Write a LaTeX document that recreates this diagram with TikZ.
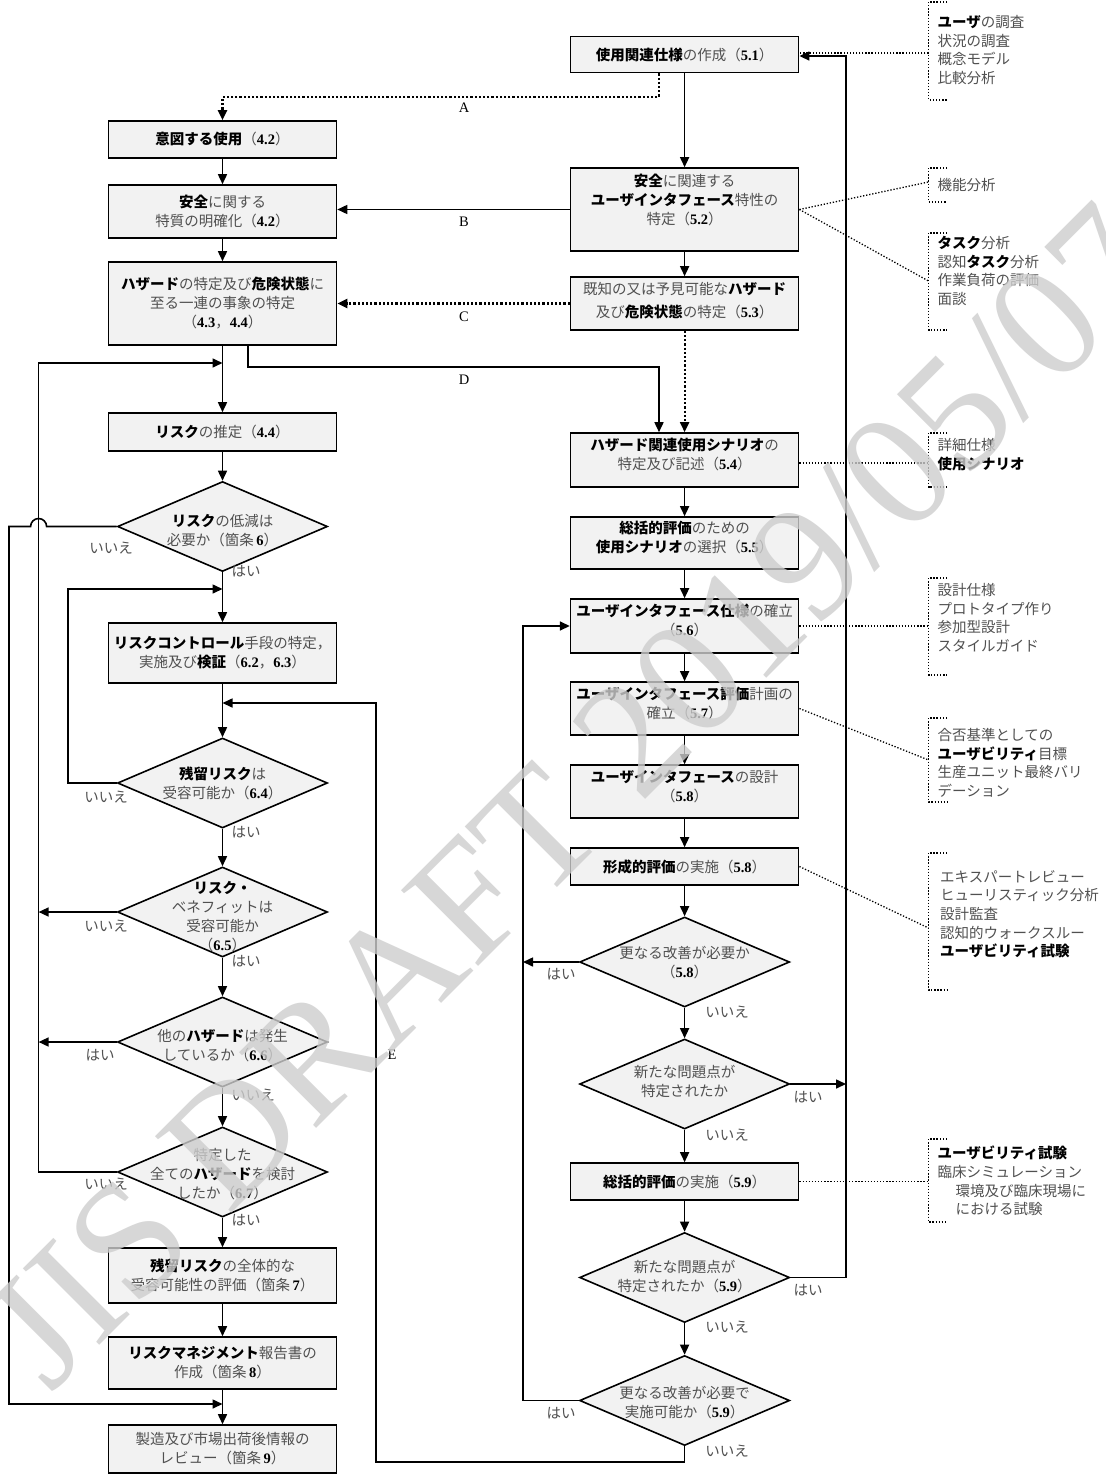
\documentclass[tikz,border=0pt]{standalone}
\usepackage{fontspec}
\setmainfont{Noto Sans CJK JP}[BoldFont={Noto Sans CJK JP Black}]
\newfontfamily\lat{Liberation Serif}
\usetikzlibrary{arrows.meta,shapes.geometric,calc}
\definecolor{boxfill}{RGB}{242,242,242}
\definecolor{txt}{RGB}{80,80,80}
\definecolor{wmc}{RGB}{205,205,205}
\newcommand\nm[1]{{\lat\bfseries\color{black}#1}}
\newcommand\bk[1]{{\bfseries\color{black}#1}}
\newcommand\dep[1]{\rule[-#1pt]{0pt}{1pt}}
\begin{document}
\begin{tikzpicture}[x=1pt,y=-1pt,
  font=\fontsize{14.5}{19}\selectfont,
  box/.style={draw=black, line width=1.6pt, fill=boxfill, minimum width=228pt, inner sep=3pt, align=center, text=txt},
  dia/.style={diamond, draw=black, line width=1.6pt, fill=boxfill, minimum width=210pt, minimum height=90pt, inner sep=0pt},
  dtext/.style={align=center, inner sep=0pt, text=txt},
  arr/.style={line width=1.6pt, -{Triangle[length=10pt,width=9pt]}},
  dotarr/.style={line width=2.2pt, dash pattern=on 2.2pt off 2pt, -{Triangle[length=10pt,width=9pt]}},
  ann/.style={line width=1.3pt, dash pattern=on 1.3pt off 1.8pt},
  lbl/.style={font=\lat\fontsize{14.5}{17}\selectfont, text=black, inner sep=0pt},
  yn/.style={text=txt, inner sep=0pt},
  note/.style={anchor=north west, align=left, inner sep=0pt, text=txt, font=\fontsize{14.5}{18.7}\selectfont},
]
\fill[white] (0,0) rectangle (1105,1474);
\useasboundingbox (0,0) rectangle (1105,1474);

% ---------- left column ----------
\node[box, minimum height=37pt] (n42a) at (222.5,139.5) {\bk{意図する使用}（\nm{4.2}）};
\node[box, minimum height=53pt] (n42b) at (222.5,211.5) {\bk{安全}に関する\\特質の明確化（\nm{4.2}）};
\node[box, minimum height=83pt] (n43) at (222.5,303.5) {\bk{ハザード}の特定及び\bk{危険状態}に\\至る一連の事象の特定\\（\nm{4.3}，\nm{4.4}）};
\node[box, minimum height=38pt] (n44) at (222.5,432) {\bk{リスク}の推定（\nm{4.4}）};
\node[dia] (d6) at (222.5,526.5) {};
\node[dtext] (d6t) at (222.5,531) {\bk{リスク}の低減は\\必要か（箇条\,\nm{6}）};
\node[box, minimum height=60pt] (n62) at (222.5,653) {\bk{リスクコントロール}手段の特定，\\実施及び\bk{検証}（\nm{6.2}，\nm{6.3}）};
\node[dia] (d64) at (222.5,783) {};
\node[dtext] (d64t) at (222.5,783) {\bk{残留リスク}は\\受容可能か（\nm{6.4}）};
\node[dia] (d65) at (222.5,912) {};
\node[dtext] (d65t) at (222.5,917) {\bk{リスク・}\\ベネフィットは\\受容可能か\\（\nm{6.5}）};
\node[dia] (d66) at (222.5,1042) {};
\node[dtext] (d66t) at (222.5,1046) {他の\bk{ハザード}は発生\\しているか（\nm{6.6}）};
\node[dia] (d67) at (222.5,1172) {};
\node[dtext] (d67t) at (222.5,1174) {特定した\\全ての\bk{ハザード}を検討\\したか（\nm{6.7}）};
\node[box, minimum height=55pt] (n7) at (222.5,1275.5) {\bk{残留リスク}の全体的な\\受容可能性の評価（箇条\,\nm{7}）};
\node[box, minimum height=52pt] (n8) at (222.5,1363) {\bk{リスクマネジメント}報告書の\\作成（箇条\,\nm{8}）};
\node[box, minimum height=48pt] (n9) at (222.5,1449) {製造及び市場出荷後情報の\\レビュー（箇条\,\nm{9}）};

% ---------- right column ----------
\node[box, minimum height=36pt] (n51) at (684.6,54.7) {\bk{使用関連仕様}の作成（\nm{5.1}）};
\node[box, minimum height=83pt] (n52) at (684.6,209.5) {\bk{安全}に関連する\\\bk{ユーザインタフェース}特性の\\特定（\nm{5.2}）\dep{20}};
\node[box, minimum height=53pt] (n53) at (684.6,303.5) {既知の又は予見可能な\bk{ハザード}\\[4pt]及び\bk{危険状態}の特定（\nm{5.3}）\dep{8}};
\node[box, minimum height=54pt] (n54) at (684.6,460) {\bk{ハザード関連使用シナリオ}の\\特定及び記述（\nm{5.4}）\dep{12}};
\node[box, minimum height=52pt] (n55) at (684.6,543) {\bk{総括的評価}のための\\\bk{使用シナリオ}の選択（\nm{5.5}）\dep{12}};
\node[box, minimum height=54pt] (n56) at (684.6,626) {\bk{ユーザインタフェース仕様}の確立\\（\nm{5.6}）\dep{12}};
\node[box, minimum height=53pt] (n57) at (684.6,708.5) {\bk{ユーザインタフェース評価}計画の\\確立（\nm{5.7}）\dep{12}};
\node[box, minimum height=53pt] (n58d) at (684.6,791.5) {\bk{ユーザインタフェース}の設計\\（\nm{5.8}）\dep{12}};
\node[box, minimum height=37pt] (n58f) at (684.6,866.5) {\bk{形成的評価}の実施（\nm{5.8}）};
\node[dia] (d58a) at (684.6,962) {};
\node[dtext] (d58at) at (684.6,963) {更なる改善が必要か\\（\nm{5.8}）};
\node[dia] (d58b) at (684.6,1084) {};
\node[dtext] (d58bt) at (684.6,1081) {新たな問題点が\\特定されたか};
\node[box, minimum height=37pt] (n59) at (684.6,1181.5) {\bk{総括的評価}の実施（\nm{5.9}）};
\node[dia] (d59a) at (684.6,1277.5) {};
\node[dtext] (d59at) at (684.6,1277) {新たな問題点が\\特定されたか（\nm{5.9}）};
\node[dia] (d59b) at (684.6,1400.5) {};
\node[dtext] (d59bt) at (684.6,1403) {更なる改善が必要で\\実施可能か（\nm{5.9}）};

% ---------- coordinates ----------
\coordinate (ja) at (222.5,97);
\coordinate (jd) at (659,367);
\coordinate (j363) at (222.5,363);
\coordinate (j589) at (222.5,589);
\coordinate (j703) at (222.5,703);
\coordinate (j1404) at (222.5,1404);
\coordinate (xl1) at (38.6,912);
\coordinate (xl2) at (38.6,1042);
\coordinate (xr1) at (523,962);
\coordinate (xr2) at (846,1084);

% ---------- connectors ----------
\draw[arr] (n42a) -- (n42b);
\draw[arr] (n42b) -- (n43);
\draw[arr] (n43.south) -- (n44.north);
\draw[arr] (n44.south) -- (d6.north);
\draw[arr] (d6.south) -- (n62.north);
\draw[arr] (n62.south) -- (d64.north);
\draw[arr] (d64.south) -- (d65.north);
\draw[arr] (d65.south) -- (d66.north);
\draw[arr] (d66.south) -- (d67.north);
\draw[arr] (d67.south) -- (n7.north);
\draw[arr] (n7) -- (n8);
\draw[arr] (n8.south) -- (n9.north);

\draw[arr] (n51) -- (n52);
\draw[arr] (n52) -- (n53);
\draw[arr] (n54) -- (n55);
\draw[arr] (n55) -- (n56);
\draw[arr] (n56) -- (n57);
\draw[arr] (n57) -- (n58d);
\draw[arr] (n58d) -- (n58f);
\draw[arr] (n58f.south) -- (d58a.north);
\draw[arr] (d58a.south) -- (d58b.north);
\draw[arr] (d58b.south) -- (n59.north);
\draw[arr] (n59.south) -- (d59a.north);
\draw[arr] (d59a.south) -- (d59b.north);

% A, B, C, D
\draw[dotarr] ([xshift=-25.6pt]n51.south) |- (ja) -- (n42a.north);
\node[lbl] (lA) at (464,108) {A};
\draw[arr] (n52.west) -- (n52.west -| n42b.east);
\node[lbl] (lB) at (464,222) {B};
\draw[dotarr] (n53.west) -- (n53.west -| n43.east);
\node[lbl] (lC) at (464,317) {C};
\draw[arr] ([xshift=25.5pt]n43.south) |- (jd) -- ([xshift=-25.6pt]n54.north);
\node[lbl] (lD) at (464,380) {D};
\draw[dotarr] (n53.south) -- (n54.north);

% left loops
\draw[arr] (d67.west) -| (38.6,363) -- (j363);
\draw[arr] (d64.west) -| (68,589) -- (j589);
\draw[arr] (d65.west) -- (xl1);
\draw[arr] (d66.west) -- (xl2);
\draw[arr] (d6.west) -- (46.6,526.5) arc[start angle=0,end angle=180,radius=8pt] -- (9,526.5) -- (9,1404) -- (j1404);

% E
\draw[arr] (d59b.south) -- (684.6,1462) -| (376,703) -- (j703);
\node[lbl] (lE) at (392,1055) {E};

% right loops
\draw[arr] (d58a.west) -- (xr1);
\draw[arr] (d59b.west) -| (523,626) -- (n56.west);
\draw[arr] (d58b.east) -- (xr2);
\draw[arr] (d59a.east) -| (846,56) -- (n51.east |- 0,56);

% yes / no labels
\node[yn] (y1) at (111,548) {いいえ};
\node[yn] (y2) at (246,571) {はい};
\node[yn] (y3) at (106,797) {いいえ};
\node[yn] (y4) at (246,832) {はい};
\node[yn] (y5) at (106,926) {いいえ};
\node[yn] (y6) at (246,961) {はい};
\node[yn] (y7) at (100,1055) {はい};
\node[yn] (y8) at (253,1095) {いいえ};
\node[yn] (y9) at (106,1184) {いいえ};
\node[yn] (y10) at (246,1220) {はい};
\node[yn] (y11) at (561,974) {はい};
\node[yn] (y12) at (727,1012) {いいえ};
\node[yn] (y13) at (808,1097) {はい};
\node[yn] (y14) at (727,1135) {いいえ};
\node[yn] (y15) at (808,1290) {はい};
\node[yn] (y16) at (727,1327) {いいえ};
\node[yn] (y17) at (561,1413) {はい};
\node[yn] (y18) at (727,1451) {いいえ};

% ---------- annotations ----------
\node[note] (a1) at (937.5,15) {\bk{ユーザ}の調査\\状況の調査\\概念モデル\\比較分析};
\draw[ann] (947,2) -- (928.5,2) -- (928.5,100) -- (947,100);
\coordinate (c1) at (928.5,53);
\draw[ann] (c1) -- (n51.east |- c1);

\node[note] (a2) at (937.5,178) {機能分析};
\draw[ann] (947,168) -- (928.5,168) -- (928.5,202) -- (947,202);
\coordinate (c2) at (928.5,182);
\draw[ann] (n52.east) -- (c2);

\node[note] (a3) at (937.5,236) {\bk{タスク}分析\\認知\bk{タスク}分析\\作業負荷の評価\\面談};
\draw[ann] (947,233) -- (928.5,233) -- (928.5,330) -- (947,330);
\coordinate (c3) at (928.5,281);
\draw[ann] (n52.east) -- (c3);

\node[note] (a4) at (937.5,438) {詳細仕様\\\bk{使用シナリオ}};
\draw[ann] (947,433) -- (928.5,433) -- (928.5,487) -- (947,487);
\coordinate (c4) at (928.5,463);
\draw[ann] (n54.east |- c4) -- (c4);

\node[note] (a5) at (937.5,583) {設計仕様\\プロトタイプ作り\\参加型設計\\スタイルガイド};
\draw[ann] (947,578) -- (928.5,578) -- (928.5,675) -- (947,675);
\coordinate (c5) at (928.5,626);
\draw[ann] (n56.east) -- (c5);

\node[note] (a6) at (937.5,728) {合否基準としての\\\bk{ユーザビリティ}目標\\生産ユニット最終バリ\\デーション};
\draw[ann] (947,718) -- (928.5,718) -- (928.5,802) -- (947,802);
\coordinate (c6) at (928.5,760);
\draw[ann] (n57.east) -- (c6);

\node[note] (a7) at (940,870) {エキスパートレビュー\\ヒューリスティック分析\\設計監査\\認知的ウォークスルー\\\bk{ユーザビリティ試験}};
\draw[ann] (947,853) -- (928.5,853) -- (928.5,990) -- (947,990);
\coordinate (c7) at (928.5,928);
\draw[ann] (n58f.east) -- (c7);

\node[note] (a8) at (937.5,1146) {\bk{ユーザビリティ試験}\\臨床シミュレーション\\\hspace*{18pt}環境及び臨床現場に\\\hspace*{18pt}における試験};
\draw[ann] (947,1139) -- (928.5,1139) -- (928.5,1222) -- (947,1222);
\coordinate (c8) at (928.5,1181.5);
\draw[ann] (n59.east) -- (c8);

% ---------- watermark ----------
\node[anchor=base west, rotate=45, inner sep=0pt, text=wmc, text opacity=0.8,
      font=\lat\fontsize{165}{165}\selectfont] (wm) at (50,1395) {JIS DRAFT 2019/05/07};
\end{tikzpicture}
\end{document}
